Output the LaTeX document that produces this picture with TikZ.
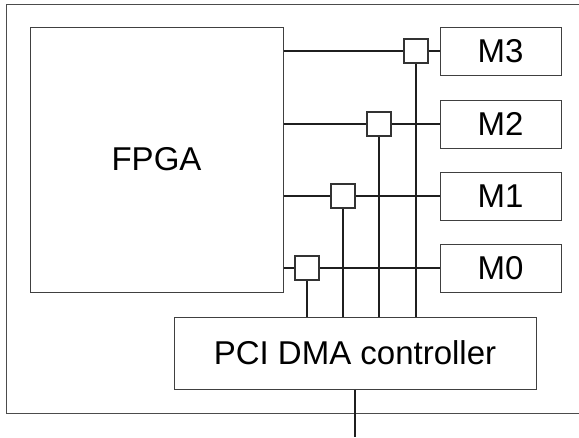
\documentclass[tikz,border=0pt]{standalone}
\usepackage{fontspec}
\setmainfont{Liberation Sans}
\begin{document}
\begin{tikzpicture}[x=1pt,y=-1pt,
  box/.style={draw=black!75,line width=1pt,fill=white,inner sep=0pt,font=\fontsize{33}{38}\selectfont},
  sqbox/.style={draw=black!80,line width=1.1pt,fill=white,minimum width=24pt,minimum height=24pt,inner sep=0pt},
  bus/.style={draw=black!88,line width=1.8pt},
  frame/.style={draw=black!70,line width=1pt}]
\useasboundingbox (0,0) rectangle (579,437);
% outer frame (right edge outside the picture)
\draw[frame] (579,4) -- (6,4) -- (6,413) -- (579,413);
% nodes
\node[box,minimum width=253pt,minimum height=265pt] (fpga) at (156.5,159.5) {FPGA};
\node[box,minimum width=121pt,minimum height=48pt] (m3) at (500.5,51) {M3};
\node[box,minimum width=121pt,minimum height=48pt] (m2) at (500.5,124) {M2};
\node[box,minimum width=121pt,minimum height=48pt] (m1) at (500.5,196) {M1};
\node[box,minimum width=121pt,minimum height=48pt] (m0) at (500.5,268) {M0};
\node[box,minimum width=362pt,minimum height=72pt] (pci) at (355,353) {PCI DMA controller};
% horizontal buses
\draw[bus] (fpga.east |- m3.west) -- (m3.west);
\draw[bus] (fpga.east |- m2.west) -- (m2.west);
\draw[bus] (fpga.east |- m1.west) -- (m1.west);
\draw[bus] (fpga.east |- m0.west) -- (m0.west);
% switch squares
\node[sqbox] (s3) at (416,51) {};
\node[sqbox] (s2) at (379,124) {};
\node[sqbox] (s1) at (343,196) {};
\node[sqbox] (s0) at (307,268) {};
% vertical buses to PCI controller
\draw[bus] (s3.south) -- (s3.south |- pci.north);
\draw[bus] (s2.south) -- (s2.south |- pci.north);
\draw[bus] (s1.south) -- (s1.south |- pci.north);
\draw[bus] (s0.south) -- (s0.south |- pci.north);
% redraw squares on top
\node[sqbox] at (s3) {};
\node[sqbox] at (s2) {};
\node[sqbox] at (s1) {};
\node[sqbox] at (s0) {};
% PCI output
\coordinate (out) at (355,437);
\draw[draw=black!88,line width=1.2pt] (pci.south) -- (out);
\end{tikzpicture}
\end{document}
